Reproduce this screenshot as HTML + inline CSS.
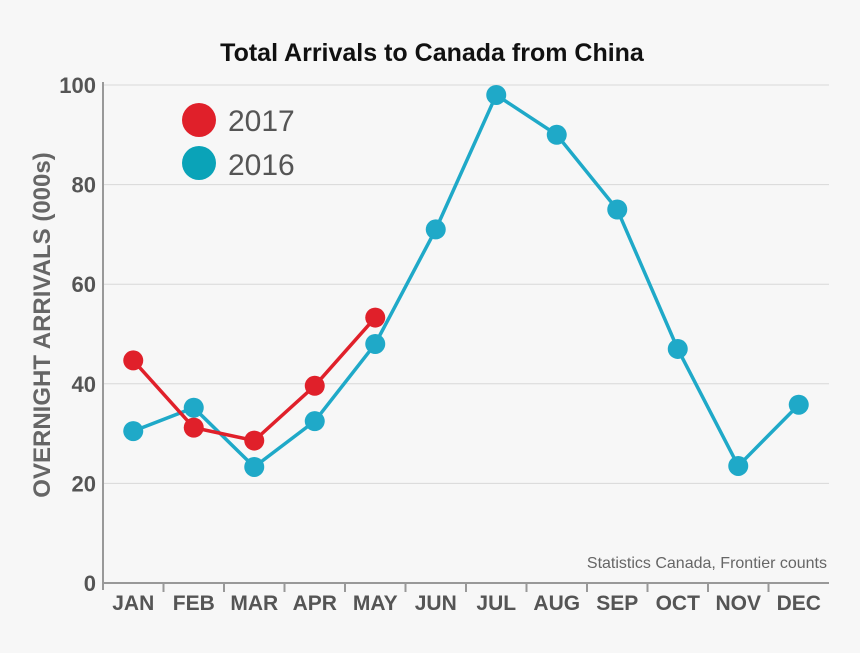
<!DOCTYPE html>
<html><head><meta charset="utf-8"><style>
html,body{margin:0;padding:0;background:#f7f7f7;}
svg{display:block;font-family:"Liberation Sans Narrow","Liberation Sans",sans-serif;}
</style></head><body>
<svg id="chart" width="860" height="653" viewBox="0 0 860 653" xmlns="http://www.w3.org/2000/svg">
<rect width="860" height="653" fill="#f7f7f7"/>
<text x="432" y="61" text-anchor="middle" font-family="Liberation Sans, sans-serif" font-weight="bold" font-size="25" fill="#111">Total Arrivals to Canada from China</text>
<g id="grid"></g>
<g id="axes"></g>
<text transform="translate(50,325) rotate(-90)" text-anchor="middle" font-size="24" font-weight="bold" fill="#666">OVERNIGHT ARRIVALS (000s)</text>
<text x="827" y="568" text-anchor="end" font-family="Liberation Sans, sans-serif" font-size="16" fill="#666">Statistics Canada, Frontier counts</text>
<g>
<circle cx="199" cy="120" r="17" fill="#e0202a"/>
<text x="228" y="131" font-size="30" fill="#555">2017</text>
<circle cx="199" cy="163" r="17" fill="#0aa3b8"/>
<text x="228" y="175" font-size="30" fill="#555">2016</text>
</g>
<g id="series"></g>
</svg>
<script>
const months=["JAN","FEB","MAR","APR","MAY","JUN","JUL","AUG","SEP","OCT","NOV","DEC"];
const values2016=[30.5,35.2,23.3,32.5,48,71,98,90,75,47,23.5,35.8];
const values2017=[44.7,31.2,28.6,39.6,53.3];
const yTicks=[0,20,40,60,80,100];
const NS="http://www.w3.org/2000/svg";
const x0=103,x1=829,y0=583,yTop=85;
const bw=(x1-x0)/months.length;
function xs(i){return x0+(i+0.5)*bw;}
function ys(v){return y0-(v/100)*(y0-yTop);}
function mk(tag,attrs,parent){const e=document.createElementNS(NS,tag);for(const k in attrs)e.setAttribute(k,attrs[k]);parent.appendChild(e);return e;}
const grid=document.getElementById('grid'),axes=document.getElementById('axes'),series=document.getElementById('series');
yTicks.forEach(t=>{
  if(t>0){const l=mk('line',{x1:x0,x2:x1,y1:ys(t),y2:ys(t),stroke:'#d8d8d8','stroke-width':1},grid);
  
  }
  const tx=mk('text',{x:96,y:ys(t)+8,'text-anchor':'end','font-size':22,'font-weight':'bold',fill:'#555'},axes);
  tx.textContent=t;
  
  
});
const ya=mk('line',{x1:x0,x2:x0,y1:yTop-3,y2:y0+7,stroke:'#999','stroke-width':2},axes);


const xa=mk('line',{x1:x0,x2:x1,y1:y0,y2:y0,stroke:'#999','stroke-width':2},axes);


months.forEach((m,i)=>{
  if(i>0){const tk=mk('line',{x1:x0+i*bw,x2:x0+i*bw,y1:y0,y2:y0+9,stroke:'#999','stroke-width':2},axes);
  
  }
  const t=mk('text',{x:xs(i),y:610,'text-anchor':'middle','font-size':21,'font-weight':'bold',fill:'#555'},axes);
  t.textContent=m;
  
  
});
function drawSeries(vals,color,name){
  const p=mk('polyline',{points:vals.map((v,i)=>xs(i)+','+ys(v)).join(' '),fill:'none',stroke:color,'stroke-width':3.5},series);
  
  
  vals.forEach((v,i)=>{
    const c=mk('circle',{cx:xs(i),cy:ys(v),r:10,fill:color},series);
    
    
  });
}
drawSeries(values2016,'#1fa9c8','2016');
drawSeries(values2017,'#e0202a','2017');
</script>
</body></html>
